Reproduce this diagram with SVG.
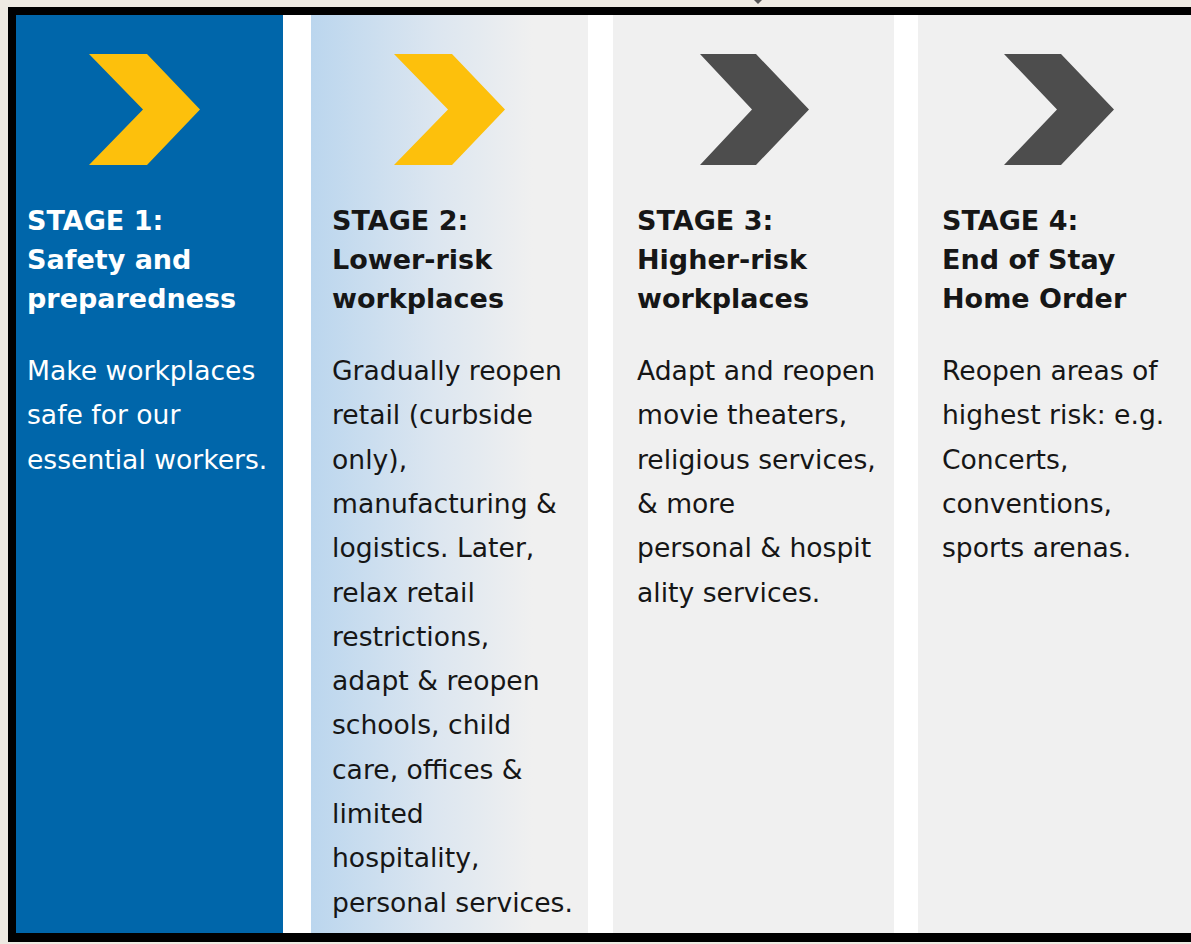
<svg xmlns="http://www.w3.org/2000/svg" width="1191" height="944" viewBox="0 0 1191 944">
  <defs>
    <linearGradient id="g2" x1="0" y1="0" x2="1" y2="0">
      <stop offset="0" stop-color="#BBD6EE"/>
      <stop offset="0.45" stop-color="#DCE6F0"/>
      <stop offset="0.8" stop-color="#F0F0F0"/>
      <stop offset="1" stop-color="#F0F0F0"/>
    </linearGradient>
    <style>
      .h { font-family: "DejaVu Sans", "Liberation Sans", sans-serif; font-weight: bold; font-size: 27px; }
      .b { font-family: "DejaVu Sans", "Liberation Sans", sans-serif; font-size: 26.6px; }
      .dark { fill: #161616; }
      .light { fill: #FFFFFF; }
      .yel { fill: #FDC00C; }
      .gry { fill: #4D4D4D; }
    </style>
  </defs>
  <rect x="0" y="0" width="1191" height="944" fill="#EEEAE2"/>
  <polygon points="754,0 762,0 758,4" fill="#555555"/>
  <rect x="8" y="7" width="1190" height="935" fill="#000000"/>
  <rect x="16" y="15" width="1175" height="918" fill="#FFFFFF"/>

  <g id="stage1">
    <rect x="16" y="15" width="267" height="918" fill="#0066AA"/>
    <polygon class="yel" points="89,54 147,54 200,109.5 147,165 89,165 143,109.5"/>
    <text class="h light" x="27" y="230">STAGE 1:</text>
    <text class="h light" x="27" y="269">Safety and</text>
    <text class="h light" x="27" y="308">preparedness</text>
    <text class="b light" x="27" y="380">Make workplaces</text>
    <text class="b light" x="27" y="424.3">safe for our</text>
    <text class="b light" x="27" y="468.6">essential workers.</text>
  </g>

  <g id="stage2">
    <rect x="311" y="15" width="277" height="918" fill="url(#g2)"/>
    <polygon class="yel" points="394,54 452,54 505,109.5 452,165 394,165 448,109.5"/>
    <text class="h dark" x="332" y="230">STAGE 2:</text>
    <text class="h dark" x="332" y="269">Lower-risk</text>
    <text class="h dark" x="332" y="308">workplaces</text>
    <text class="b dark" x="332" y="380">Gradually reopen</text>
    <text class="b dark" x="332" y="424.3">retail (curbside</text>
    <text class="b dark" x="332" y="468.6">only),</text>
    <text class="b dark" x="332" y="512.9">manufacturing &amp;</text>
    <text class="b dark" x="332" y="557.2">logistics. Later,</text>
    <text class="b dark" x="332" y="601.5">relax retail</text>
    <text class="b dark" x="332" y="645.8">restrictions,</text>
    <text class="b dark" x="332" y="690.1">adapt &amp; reopen</text>
    <text class="b dark" x="332" y="734.4">schools, child</text>
    <text class="b dark" x="332" y="778.7">care, offices &amp;</text>
    <text class="b dark" x="332" y="823">limited</text>
    <text class="b dark" x="332" y="867.3">hospitality,</text>
    <text class="b dark" x="332" y="911.6">personal services.</text>
  </g>

  <g id="stage3">
    <rect x="613" y="15" width="281" height="918" fill="#F0F0F0"/>
    <polygon class="gry" points="700,54 756,54 809,109.5 756,165 700,165 752,109.5"/>
    <text class="h dark" x="637" y="230">STAGE 3:</text>
    <text class="h dark" x="637" y="269">Higher-risk</text>
    <text class="h dark" x="637" y="308">workplaces</text>
    <text class="b dark" x="637" y="380">Adapt and reopen</text>
    <text class="b dark" x="637" y="424.3">movie theaters,</text>
    <text class="b dark" x="637" y="468.6">religious services,</text>
    <text class="b dark" x="637" y="512.9">&amp; more</text>
    <text class="b dark" x="637" y="557.2">personal &amp; hospit</text>
    <text class="b dark" x="637" y="601.5">ality services.</text>
  </g>

  <g id="stage4">
    <rect x="918" y="15" width="273" height="918" fill="#F0F0F0"/>
    <polygon class="gry" points="1004,54 1061,54 1114,109.5 1061,165 1004,165 1057,109.5"/>
    <text class="h dark" x="942" y="230">STAGE 4:</text>
    <text class="h dark" x="942" y="269">End of Stay</text>
    <text class="h dark" x="942" y="308">Home Order</text>
    <text class="b dark" x="942" y="380">Reopen areas of</text>
    <text class="b dark" x="942" y="424.3">highest risk: e.g.</text>
    <text class="b dark" x="942" y="468.6">Concerts,</text>
    <text class="b dark" x="942" y="512.9">conventions,</text>
    <text class="b dark" x="942" y="557.2">sports arenas.</text>
  </g>

  <g id="connectors"></g>
</svg>
